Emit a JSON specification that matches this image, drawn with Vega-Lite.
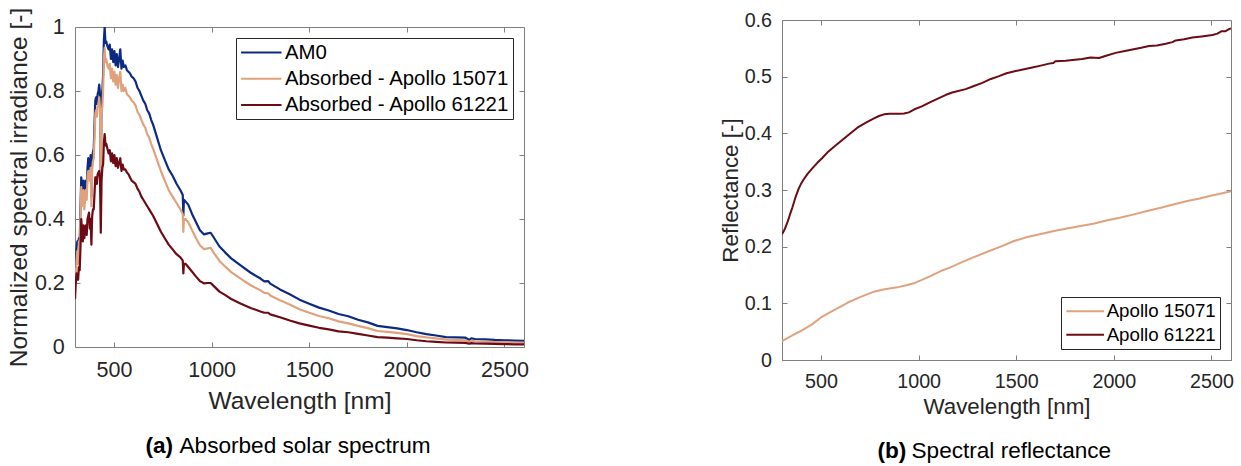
{
  "$schema": "https://vega.github.io/schema/vega-lite/v6.json",
  "background": "white",
  "padding": {"left": 6, "top": 7, "right": 0, "bottom": 0},
  "config": {
    "font": "Liberation Sans",
    "view": {"stroke": "#7f7f7f", "strokeWidth": 1},
    "axis": {
      "grid": false,
      "domainColor": "#7f7f7f",
      "tickColor": "#7f7f7f",
      "labelColor": "#262626",
      "titleColor": "#262626",
      "titleFontWeight": "normal"
    },
    "legend": {
      "labelColor": "#000000",
      "strokeColor": "#262626",
      "fillColor": "#ffffff",
      "symbolStrokeWidth": 2,
      "labelLimit": 400
    }
  },
  "datasets": {
    "irradiance": [
      {"nm": 300, "AM0": 0.27, "A15": 0.22, "A61": 0.15},
      {"nm": 304, "AM0": 0.25, "A15": 0.2, "A61": 0.2},
      {"nm": 308, "AM0": 0.31, "A15": 0.27, "A61": 0.23},
      {"nm": 312, "AM0": 0.33, "A15": 0.3, "A61": 0.22},
      {"nm": 316, "AM0": 0.32, "A15": 0.26, "A61": 0.21},
      {"nm": 320, "AM0": 0.34, "A15": 0.33, "A61": 0.25},
      {"nm": 324, "AM0": 0.33, "A15": 0.31, "A61": 0.24},
      {"nm": 328, "AM0": 0.43, "A15": 0.4, "A61": 0.31},
      {"nm": 332, "AM0": 0.53, "A15": 0.5, "A61": 0.4},
      {"nm": 336, "AM0": 0.5, "A15": 0.44, "A61": 0.36},
      {"nm": 340, "AM0": 0.48, "A15": 0.45, "A61": 0.33},
      {"nm": 344, "AM0": 0.52, "A15": 0.49, "A61": 0.38},
      {"nm": 348, "AM0": 0.45, "A15": 0.43, "A61": 0.34},
      {"nm": 352, "AM0": 0.5, "A15": 0.47, "A61": 0.37},
      {"nm": 356, "AM0": 0.52, "A15": 0.49, "A61": 0.38},
      {"nm": 360, "AM0": 0.49, "A15": 0.46, "A61": 0.35},
      {"nm": 364, "AM0": 0.56, "A15": 0.53, "A61": 0.4},
      {"nm": 368, "AM0": 0.59, "A15": 0.55, "A61": 0.41},
      {"nm": 372, "AM0": 0.58, "A15": 0.55, "A61": 0.42},
      {"nm": 376, "AM0": 0.55, "A15": 0.52, "A61": 0.37},
      {"nm": 380, "AM0": 0.6, "A15": 0.56, "A61": 0.4},
      {"nm": 384, "AM0": 0.47, "A15": 0.44, "A61": 0.32},
      {"nm": 388, "AM0": 0.59, "A15": 0.56, "A61": 0.41},
      {"nm": 392, "AM0": 0.61, "A15": 0.58, "A61": 0.43},
      {"nm": 396, "AM0": 0.62, "A15": 0.59, "A61": 0.43},
      {"nm": 400, "AM0": 0.7, "A15": 0.66, "A61": 0.48},
      {"nm": 404, "AM0": 0.77, "A15": 0.73, "A61": 0.53},
      {"nm": 408, "AM0": 0.78, "A15": 0.74, "A61": 0.53},
      {"nm": 412, "AM0": 0.76, "A15": 0.72, "A61": 0.51},
      {"nm": 416, "AM0": 0.79, "A15": 0.75, "A61": 0.54},
      {"nm": 420, "AM0": 0.8, "A15": 0.76, "A61": 0.545},
      {"nm": 424, "AM0": 0.82, "A15": 0.78, "A61": 0.55},
      {"nm": 428, "AM0": 0.79, "A15": 0.745, "A61": 0.53},
      {"nm": 432, "AM0": 0.53, "A15": 0.5, "A61": 0.357},
      {"nm": 436, "AM0": 0.78, "A15": 0.73, "A61": 0.52},
      {"nm": 440, "AM0": 0.8, "A15": 0.75, "A61": 0.56},
      {"nm": 444, "AM0": 0.85, "A15": 0.8, "A61": 0.57},
      {"nm": 448, "AM0": 0.96, "A15": 0.9, "A61": 0.64},
      {"nm": 452, "AM0": 1.0, "A15": 0.935, "A61": 0.665},
      {"nm": 456, "AM0": 0.95, "A15": 0.89, "A61": 0.63},
      {"nm": 460, "AM0": 0.955, "A15": 0.9, "A61": 0.635},
      {"nm": 466, "AM0": 0.94, "A15": 0.88, "A61": 0.62},
      {"nm": 472, "AM0": 0.93, "A15": 0.87, "A61": 0.605},
      {"nm": 478, "AM0": 0.945, "A15": 0.885, "A61": 0.615},
      {"nm": 484, "AM0": 0.9, "A15": 0.84, "A61": 0.58},
      {"nm": 490, "AM0": 0.93, "A15": 0.87, "A61": 0.605},
      {"nm": 496, "AM0": 0.89, "A15": 0.83, "A61": 0.575},
      {"nm": 502, "AM0": 0.925, "A15": 0.86, "A61": 0.6},
      {"nm": 508, "AM0": 0.88, "A15": 0.82, "A61": 0.565},
      {"nm": 514, "AM0": 0.915, "A15": 0.85, "A61": 0.59},
      {"nm": 520, "AM0": 0.875, "A15": 0.81, "A61": 0.56},
      {"nm": 526, "AM0": 0.9, "A15": 0.84, "A61": 0.575},
      {"nm": 532, "AM0": 0.93, "A15": 0.86, "A61": 0.59},
      {"nm": 538, "AM0": 0.87, "A15": 0.8, "A61": 0.55},
      {"nm": 544, "AM0": 0.895, "A15": 0.82, "A61": 0.57},
      {"nm": 550, "AM0": 0.875, "A15": 0.8, "A61": 0.555},
      {"nm": 558, "AM0": 0.88, "A15": 0.81, "A61": 0.555},
      {"nm": 566, "AM0": 0.865, "A15": 0.79, "A61": 0.545},
      {"nm": 574, "AM0": 0.86, "A15": 0.785, "A61": 0.54},
      {"nm": 582, "AM0": 0.855, "A15": 0.78, "A61": 0.53},
      {"nm": 590, "AM0": 0.845, "A15": 0.77, "A61": 0.52},
      {"nm": 600, "AM0": 0.84, "A15": 0.765, "A61": 0.515},
      {"nm": 610, "AM0": 0.83, "A15": 0.755, "A61": 0.51},
      {"nm": 620, "AM0": 0.81, "A15": 0.735, "A61": 0.495},
      {"nm": 630, "AM0": 0.8, "A15": 0.725, "A61": 0.485},
      {"nm": 640, "AM0": 0.785, "A15": 0.71, "A61": 0.47},
      {"nm": 650, "AM0": 0.77, "A15": 0.695, "A61": 0.46},
      {"nm": 660, "AM0": 0.76, "A15": 0.685, "A61": 0.45},
      {"nm": 670, "AM0": 0.74, "A15": 0.665, "A61": 0.44},
      {"nm": 680, "AM0": 0.73, "A15": 0.655, "A61": 0.43},
      {"nm": 690, "AM0": 0.71, "A15": 0.635, "A61": 0.42},
      {"nm": 700, "AM0": 0.695, "A15": 0.62, "A61": 0.41},
      {"nm": 720, "AM0": 0.655, "A15": 0.585, "A61": 0.385},
      {"nm": 740, "AM0": 0.615, "A15": 0.55, "A61": 0.36},
      {"nm": 760, "AM0": 0.585, "A15": 0.52, "A61": 0.34},
      {"nm": 780, "AM0": 0.555, "A15": 0.49, "A61": 0.32},
      {"nm": 800, "AM0": 0.535, "A15": 0.47, "A61": 0.305},
      {"nm": 820, "AM0": 0.51, "A15": 0.45, "A61": 0.29},
      {"nm": 840, "AM0": 0.49, "A15": 0.43, "A61": 0.28},
      {"nm": 852, "AM0": 0.475, "A15": 0.415, "A61": 0.27},
      {"nm": 855, "AM0": 0.41, "A15": 0.36, "A61": 0.23},
      {"nm": 858, "AM0": 0.46, "A15": 0.4, "A61": 0.26},
      {"nm": 866, "AM0": 0.455, "A15": 0.4, "A61": 0.26},
      {"nm": 880, "AM0": 0.445, "A15": 0.39, "A61": 0.25},
      {"nm": 900, "AM0": 0.415, "A15": 0.365, "A61": 0.235},
      {"nm": 920, "AM0": 0.39, "A15": 0.34, "A61": 0.22},
      {"nm": 940, "AM0": 0.365, "A15": 0.318, "A61": 0.206},
      {"nm": 960, "AM0": 0.352, "A15": 0.306, "A61": 0.199},
      {"nm": 980, "AM0": 0.355, "A15": 0.308, "A61": 0.2},
      {"nm": 995, "AM0": 0.357, "A15": 0.31, "A61": 0.2},
      {"nm": 1010, "AM0": 0.343, "A15": 0.295, "A61": 0.191},
      {"nm": 1040, "AM0": 0.314, "A15": 0.269, "A61": 0.173},
      {"nm": 1070, "AM0": 0.295, "A15": 0.251, "A61": 0.162},
      {"nm": 1100, "AM0": 0.277, "A15": 0.234, "A61": 0.15},
      {"nm": 1150, "AM0": 0.254, "A15": 0.213, "A61": 0.135},
      {"nm": 1200, "AM0": 0.232, "A15": 0.193, "A61": 0.122},
      {"nm": 1250, "AM0": 0.214, "A15": 0.177, "A61": 0.111},
      {"nm": 1270, "AM0": 0.205, "A15": 0.169, "A61": 0.107},
      {"nm": 1290, "AM0": 0.206, "A15": 0.168, "A61": 0.107},
      {"nm": 1300, "AM0": 0.198, "A15": 0.161, "A61": 0.102},
      {"nm": 1350, "AM0": 0.18, "A15": 0.146, "A61": 0.093},
      {"nm": 1400, "AM0": 0.165, "A15": 0.133, "A61": 0.083},
      {"nm": 1450, "AM0": 0.148, "A15": 0.118, "A61": 0.074},
      {"nm": 1500, "AM0": 0.135, "A15": 0.107, "A61": 0.067},
      {"nm": 1550, "AM0": 0.123, "A15": 0.097, "A61": 0.06},
      {"nm": 1600, "AM0": 0.114, "A15": 0.09, "A61": 0.055},
      {"nm": 1650, "AM0": 0.103, "A15": 0.08, "A61": 0.049},
      {"nm": 1700, "AM0": 0.096, "A15": 0.074, "A61": 0.046},
      {"nm": 1750, "AM0": 0.085, "A15": 0.066, "A61": 0.041},
      {"nm": 1800, "AM0": 0.077, "A15": 0.059, "A61": 0.036},
      {"nm": 1850, "AM0": 0.066, "A15": 0.05, "A61": 0.031},
      {"nm": 1900, "AM0": 0.062, "A15": 0.047, "A61": 0.029},
      {"nm": 1950, "AM0": 0.058, "A15": 0.044, "A61": 0.027},
      {"nm": 2000, "AM0": 0.053, "A15": 0.04, "A61": 0.025},
      {"nm": 2050, "AM0": 0.046, "A15": 0.034, "A61": 0.021},
      {"nm": 2100, "AM0": 0.04, "A15": 0.03, "A61": 0.018},
      {"nm": 2150, "AM0": 0.036, "A15": 0.027, "A61": 0.016},
      {"nm": 2200, "AM0": 0.031, "A15": 0.023, "A61": 0.014},
      {"nm": 2250, "AM0": 0.03, "A15": 0.022, "A61": 0.0135},
      {"nm": 2300, "AM0": 0.029, "A15": 0.021, "A61": 0.013},
      {"nm": 2320, "AM0": 0.022, "A15": 0.016, "A61": 0.01},
      {"nm": 2330, "AM0": 0.027, "A15": 0.02, "A61": 0.012},
      {"nm": 2350, "AM0": 0.025, "A15": 0.018, "A61": 0.011},
      {"nm": 2400, "AM0": 0.024, "A15": 0.017, "A61": 0.0105},
      {"nm": 2450, "AM0": 0.022, "A15": 0.0155, "A61": 0.0095},
      {"nm": 2500, "AM0": 0.021, "A15": 0.015, "A61": 0.009},
      {"nm": 2550, "AM0": 0.02, "A15": 0.014, "A61": 0.0085},
      {"nm": 2600, "AM0": 0.019, "A15": 0.0135, "A61": 0.008}
    ],
    "reflectance": [
      {"nm": 300, "sample": "Apollo 15071", "r": 0.0335},
      {"nm": 330, "sample": "Apollo 15071", "r": 0.039},
      {"nm": 361, "sample": "Apollo 15071", "r": 0.045},
      {"nm": 400, "sample": "Apollo 15071", "r": 0.052},
      {"nm": 450, "sample": "Apollo 15071", "r": 0.062},
      {"nm": 498, "sample": "Apollo 15071", "r": 0.0747},
      {"nm": 550, "sample": "Apollo 15071", "r": 0.085},
      {"nm": 600, "sample": "Apollo 15071", "r": 0.094},
      {"nm": 635, "sample": "Apollo 15071", "r": 0.101},
      {"nm": 700, "sample": "Apollo 15071", "r": 0.111},
      {"nm": 771, "sample": "Apollo 15071", "r": 0.1206},
      {"nm": 820, "sample": "Apollo 15071", "r": 0.1245},
      {"nm": 857, "sample": "Apollo 15071", "r": 0.1265},
      {"nm": 900, "sample": "Apollo 15071", "r": 0.129},
      {"nm": 942, "sample": "Apollo 15071", "r": 0.1323},
      {"nm": 980, "sample": "Apollo 15071", "r": 0.136},
      {"nm": 1011, "sample": "Apollo 15071", "r": 0.1406},
      {"nm": 1060, "sample": "Apollo 15071", "r": 0.148},
      {"nm": 1113, "sample": "Apollo 15071", "r": 0.157},
      {"nm": 1160, "sample": "Apollo 15071", "r": 0.163},
      {"nm": 1216, "sample": "Apollo 15071", "r": 0.1717},
      {"nm": 1280, "sample": "Apollo 15071", "r": 0.181},
      {"nm": 1352, "sample": "Apollo 15071", "r": 0.191},
      {"nm": 1420, "sample": "Apollo 15071", "r": 0.2},
      {"nm": 1489, "sample": "Apollo 15071", "r": 0.21},
      {"nm": 1557, "sample": "Apollo 15071", "r": 0.217},
      {"nm": 1620, "sample": "Apollo 15071", "r": 0.222},
      {"nm": 1693, "sample": "Apollo 15071", "r": 0.2276},
      {"nm": 1760, "sample": "Apollo 15071", "r": 0.232},
      {"nm": 1830, "sample": "Apollo 15071", "r": 0.2365},
      {"nm": 1900, "sample": "Apollo 15071", "r": 0.241},
      {"nm": 1966, "sample": "Apollo 15071", "r": 0.2465},
      {"nm": 2030, "sample": "Apollo 15071", "r": 0.251},
      {"nm": 2103, "sample": "Apollo 15071", "r": 0.257},
      {"nm": 2170, "sample": "Apollo 15071", "r": 0.263},
      {"nm": 2240, "sample": "Apollo 15071", "r": 0.2688},
      {"nm": 2310, "sample": "Apollo 15071", "r": 0.275},
      {"nm": 2376, "sample": "Apollo 15071", "r": 0.2806},
      {"nm": 2440, "sample": "Apollo 15071", "r": 0.285},
      {"nm": 2496, "sample": "Apollo 15071", "r": 0.29},
      {"nm": 2550, "sample": "Apollo 15071", "r": 0.294},
      {"nm": 2600, "sample": "Apollo 15071", "r": 0.298},
      {"nm": 300, "sample": "Apollo 61221", "r": 0.222},
      {"nm": 310, "sample": "Apollo 61221", "r": 0.228},
      {"nm": 320, "sample": "Apollo 61221", "r": 0.236},
      {"nm": 330, "sample": "Apollo 61221", "r": 0.245},
      {"nm": 340, "sample": "Apollo 61221", "r": 0.256},
      {"nm": 353, "sample": "Apollo 61221", "r": 0.269},
      {"nm": 370, "sample": "Apollo 61221", "r": 0.288},
      {"nm": 385, "sample": "Apollo 61221", "r": 0.302},
      {"nm": 396, "sample": "Apollo 61221", "r": 0.31},
      {"nm": 410, "sample": "Apollo 61221", "r": 0.318},
      {"nm": 430, "sample": "Apollo 61221", "r": 0.328},
      {"nm": 455, "sample": "Apollo 61221", "r": 0.338},
      {"nm": 481, "sample": "Apollo 61221", "r": 0.348},
      {"nm": 505, "sample": "Apollo 61221", "r": 0.356},
      {"nm": 532, "sample": "Apollo 61221", "r": 0.366},
      {"nm": 565, "sample": "Apollo 61221", "r": 0.376},
      {"nm": 601, "sample": "Apollo 61221", "r": 0.386},
      {"nm": 640, "sample": "Apollo 61221", "r": 0.397},
      {"nm": 686, "sample": "Apollo 61221", "r": 0.41},
      {"nm": 730, "sample": "Apollo 61221", "r": 0.419},
      {"nm": 771, "sample": "Apollo 61221", "r": 0.4265},
      {"nm": 800, "sample": "Apollo 61221", "r": 0.431},
      {"nm": 823, "sample": "Apollo 61221", "r": 0.4335},
      {"nm": 850, "sample": "Apollo 61221", "r": 0.4345},
      {"nm": 874, "sample": "Apollo 61221", "r": 0.4347},
      {"nm": 900, "sample": "Apollo 61221", "r": 0.4345},
      {"nm": 925, "sample": "Apollo 61221", "r": 0.435},
      {"nm": 950, "sample": "Apollo 61221", "r": 0.437},
      {"nm": 976, "sample": "Apollo 61221", "r": 0.442},
      {"nm": 1019, "sample": "Apollo 61221", "r": 0.448},
      {"nm": 1060, "sample": "Apollo 61221", "r": 0.455},
      {"nm": 1104, "sample": "Apollo 61221", "r": 0.462},
      {"nm": 1140, "sample": "Apollo 61221", "r": 0.468},
      {"nm": 1172, "sample": "Apollo 61221", "r": 0.472},
      {"nm": 1241, "sample": "Apollo 61221", "r": 0.478},
      {"nm": 1280, "sample": "Apollo 61221", "r": 0.483},
      {"nm": 1326, "sample": "Apollo 61221", "r": 0.489},
      {"nm": 1370, "sample": "Apollo 61221", "r": 0.496},
      {"nm": 1412, "sample": "Apollo 61221", "r": 0.501},
      {"nm": 1450, "sample": "Apollo 61221", "r": 0.506},
      {"nm": 1497, "sample": "Apollo 61221", "r": 0.51},
      {"nm": 1540, "sample": "Apollo 61221", "r": 0.513},
      {"nm": 1582, "sample": "Apollo 61221", "r": 0.516},
      {"nm": 1620, "sample": "Apollo 61221", "r": 0.519},
      {"nm": 1668, "sample": "Apollo 61221", "r": 0.523},
      {"nm": 1690, "sample": "Apollo 61221", "r": 0.524},
      {"nm": 1700, "sample": "Apollo 61221", "r": 0.527},
      {"nm": 1753, "sample": "Apollo 61221", "r": 0.528},
      {"nm": 1800, "sample": "Apollo 61221", "r": 0.53},
      {"nm": 1838, "sample": "Apollo 61221", "r": 0.531},
      {"nm": 1880, "sample": "Apollo 61221", "r": 0.534},
      {"nm": 1924, "sample": "Apollo 61221", "r": 0.533},
      {"nm": 1960, "sample": "Apollo 61221", "r": 0.537},
      {"nm": 2009, "sample": "Apollo 61221", "r": 0.542},
      {"nm": 2050, "sample": "Apollo 61221", "r": 0.545},
      {"nm": 2095, "sample": "Apollo 61221", "r": 0.548},
      {"nm": 2140, "sample": "Apollo 61221", "r": 0.551},
      {"nm": 2180, "sample": "Apollo 61221", "r": 0.554},
      {"nm": 2220, "sample": "Apollo 61221", "r": 0.555},
      {"nm": 2266, "sample": "Apollo 61221", "r": 0.558},
      {"nm": 2300, "sample": "Apollo 61221", "r": 0.561},
      {"nm": 2317, "sample": "Apollo 61221", "r": 0.564},
      {"nm": 2360, "sample": "Apollo 61221", "r": 0.566},
      {"nm": 2402, "sample": "Apollo 61221", "r": 0.569},
      {"nm": 2450, "sample": "Apollo 61221", "r": 0.571},
      {"nm": 2505, "sample": "Apollo 61221", "r": 0.5735},
      {"nm": 2530, "sample": "Apollo 61221", "r": 0.576},
      {"nm": 2550, "sample": "Apollo 61221", "r": 0.58},
      {"nm": 2570, "sample": "Apollo 61221", "r": 0.58},
      {"nm": 2590, "sample": "Apollo 61221", "r": 0.584},
      {"nm": 2600, "sample": "Apollo 61221", "r": 0.585}
    ]
  },
  "bounds": "flush",
  "center": true,
  "spacing": 258,
  "resolve": {
    "scale": {"color": "independent", "x": "independent", "y": "independent"},
    "legend": {"color": "independent"}
  },
  "hconcat": [
    {
      "width": 449,
      "height": 326,
      "view": {"stroke": null},
      "data": {"name": "irradiance"},
      "transform": [{"fold": ["AM0", "A15", "A61"], "as": ["series", "value"]}],
      "layer": [
        {
          "mark": {"type": "line", "strokeWidth": 2.2, "strokeJoin": "round", "clip": true},
          "encoding": {
            "x": {
              "field": "nm", "type": "quantitative",
              "scale": {"domain": [300, 2600], "nice": false, "zero": false},
              "axis": {
                "orient": "bottom", "offset": -6, "domain": true,
                "values": [500, 1000, 1500, 2000, 2500], "format": "d",
                "tickSize": -5, "labelPadding": 17, "labelFontSize": 21.5,
                "title": "Wavelength [nm]", "titleFontSize": 24.5, "titlePadding": 9
              }
            },
            "y": {
              "field": "value", "type": "quantitative",
              "scale": {"domain": [0, 1], "range": [320, 0], "nice": false, "zero": false},
              "axis": {
                "orient": "left", "domain": true, "values": [0, 0.2, 0.4, 0.6, 0.8, 1], "format": "~g",
                "tickSize": -5, "labelPadding": 15.7, "labelFontSize": 21.5,
                "title": "Normalized spectral irradiance [-]", "titleFontSize": 24.5, "titlePadding": 3
              }
            },
            "color": {
              "field": "series", "type": "nominal",
              "scale": {"domain": ["AM0", "A15", "A61"], "range": ["#0c2a82", "#e0a27c", "#6c0b14"]},
              "legend": {
                "title": null, "orient": "top-right", "offset": 11,
                "labelExpr": "{'AM0': 'AM0', 'A15': 'Absorbed - Apollo 15071', 'A61': 'Absorbed - Apollo 61221'}[datum.label]",
                "labelFontSize": 20.4, "symbolType": "M-2.02,0H2.02", "symbolSize": 400,
                "symbolOffset": 10.8, "labelOffset": 12.6, "rowPadding": 4.2, "padding": 3.5
              }
            }
          }
        },
        {
          "mark": {"type": "line", "opacity": 0},
          "encoding": {
            "x": {
              "field": "nm", "type": "quantitative",
              "scale": {"domain": [300, 2600], "nice": false, "zero": false},
              "axis": {
                "orient": "top", "values": [500, 1000, 1500, 2000, 2500], "labels": false, "domain": true,
                "tickSize": -5, "title": "(a)", "titleX": 70, "titleY": 425.5, "titleAngle": 0,
                "titleAlign": "left", "titleBaseline": "alphabetic", "titleFontSize": 22.6,
                "titleFontWeight": "bold", "titleColor": "#000000"
              }
            },
            "y": {
              "field": "value", "type": "quantitative",
              "scale": {"domain": [0, 1], "range": [320, 0], "nice": false, "zero": false},
              "axis": {
                "orient": "right", "values": [0, 0.2, 0.4, 0.6, 0.8, 1], "labels": false, "domain": true,
                "tickSize": -5, "title": "Absorbed solar spectrum", "titleX": -345, "titleY": 425.5,
                "titleAngle": 0, "titleAlign": "left", "titleBaseline": "alphabetic", "titleFontSize": 22.6,
                "titleColor": "#000000"
              }
            },
            "detail": {"field": "series"}
          }
        }
      ],
      "resolve": {"axis": {"x": "independent", "y": "independent"}}
    },
    {
      "width": 449,
      "height": 340,
      "data": {"name": "reflectance"},
      "layer": [
        {
          "mark": {"type": "line", "strokeWidth": 2, "strokeJoin": "round", "clip": true},
          "encoding": {
            "x": {
              "field": "nm", "type": "quantitative",
              "scale": {"domain": [300, 2600], "nice": false, "zero": false},
              "axis": {
                "orient": "bottom", "values": [500, 1000, 1500, 2000, 2500], "format": "d",
                "tickSize": -5, "labelPadding": 16, "labelFontSize": 19.7,
                "title": "Wavelength [nm]", "titleFontSize": 22.4, "titlePadding": 5
              }
            },
            "y": {
              "field": "r", "type": "quantitative",
              "scale": {"domain": [0, 0.6], "nice": false, "zero": false},
              "axis": {
                "orient": "left", "values": [0, 0.1, 0.2, 0.3, 0.4, 0.5, 0.6], "format": "~g",
                "tickSize": -5, "labelPadding": 15.5, "labelFontSize": 19.7,
                "title": "Reflectance [-]", "titleFontSize": 22.4, "titlePadding": 2
              }
            },
            "color": {
              "field": "sample", "type": "nominal",
              "scale": {"domain": ["Apollo 15071", "Apollo 61221"], "range": ["#e0a27c", "#6c0b14"]},
              "legend": {
                "title": null, "orient": "bottom-right", "offset": 11,
                "labelFontSize": 18.7, "symbolType": "M-2.09,0H2.09", "symbolSize": 324,
                "symbolOffset": 9.95, "labelOffset": 11.5, "rowPadding": 3.6, "padding": 4.2
              }
            }
          }
        },
        {
          "mark": {"type": "line", "opacity": 0},
          "encoding": {
            "x": {
              "field": "nm", "type": "quantitative",
              "scale": {"domain": [300, 2600], "nice": false, "zero": false},
              "axis": {
                "orient": "top", "values": [500, 1000, 1500, 2000, 2500], "labels": false, "domain": false,
                "tickSize": -5, "title": "(b)", "titleX": 95, "titleY": 437.7, "titleAngle": 0,
                "titleAlign": "left", "titleBaseline": "alphabetic", "titleFontSize": 22.6,
                "titleFontWeight": "bold", "titleColor": "#000000"
              }
            },
            "y": {
              "field": "r", "type": "quantitative",
              "scale": {"domain": [0, 0.6], "nice": false, "zero": false},
              "axis": {
                "orient": "right", "values": [0, 0.1, 0.2, 0.3, 0.4, 0.5, 0.6], "labels": false, "domain": false,
                "tickSize": -5, "title": "Spectral reflectance", "titleX": -320, "titleY": 437.7,
                "titleAngle": 0, "titleAlign": "left", "titleBaseline": "alphabetic", "titleFontSize": 22.6,
                "titleColor": "#000000"
              }
            },
            "detail": {"field": "sample"}
          }
        }
      ],
      "resolve": {"axis": {"x": "independent", "y": "independent"}}
    }
  ]
}
